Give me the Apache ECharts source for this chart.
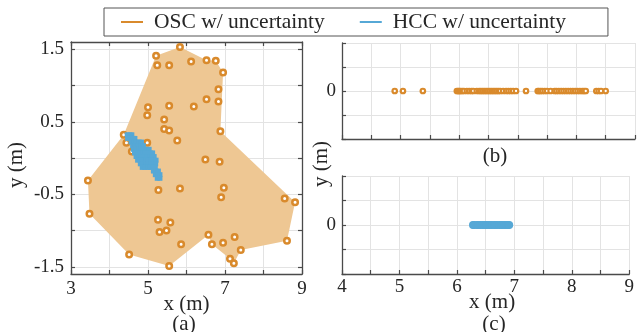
<!DOCTYPE html>
<html>
<head>
<meta charset="utf-8">
<script src="https://cdn.jsdelivr.net/npm/echarts@6/dist/echarts.min.js"></script>
<style>
  html, body { margin: 0; padding: 0; background: #fff; }
  #chart { width: 637px; height: 332px; }
</style>
</head>
<body>
<div id="chart"></div>
<script>
// (a) OSC positions
const oscX = [5.83,5.21,5.24,5.55,6.12,6.52,6.76,6.95,6.83,6.52,6.83,6.19,5.55,5.00,4.98,5.42,5.42,5.55,6.88,5.76,4.37,4.44,4.98,4.58,6.49,6.86,3.44,5.27,5.83,6.97,6.90,8.55,8.82,3.48,5.26,5.58,5.30,5.48,6.57,7.25,5.86,6.66,6.95,8.61,7.41,4.51,7.13,7.23,5.55];
const oscY = [1.53,1.41,1.28,1.28,1.33,1.35,1.34,1.18,0.95,0.81,0.78,0.71,0.72,0.70,0.59,0.53,0.40,0.38,0.37,0.24,0.32,0.21,0.21,0.09,-0.02,-0.05,-0.31,-0.44,-0.42,-0.41,-0.54,-0.56,-0.61,-0.77,-0.85,-0.89,-1.02,-1.00,-1.06,-1.09,-1.19,-1.19,-1.17,-1.14,-1.27,-1.33,-1.39,-1.45,-1.49];

// (a) HCC blob
const hccX = [4.46,4.53,4.58, 4.47,4.54,4.61,4.66, 4.56,4.63,4.70,4.77,4.83, 4.60,4.67,4.74,4.81,4.88, 4.62,4.69,4.76,4.83,4.90,4.97,5.03, 4.65,4.72,4.79,4.86,4.93,5.00,5.07,5.12, 4.69,4.76,4.83,4.90,4.97,5.04,5.11,5.16, 4.73,4.80,4.87,4.94,5.01,5.08,5.15,5.21, 4.80,4.87,4.94,5.01,5.08,5.15,5.20, 4.85,4.92,4.99,5.06,5.13,5.19, 5.14,5.21,5.27, 5.19,5.26,5.31, 5.24,5.31];
const hccY = [0.32,0.32,0.32, 0.27,0.27,0.27,0.27, 0.22,0.22,0.22,0.22,0.22, 0.17,0.17,0.17,0.17,0.17, 0.12,0.12,0.12,0.12,0.12,0.12,0.12, 0.07,0.07,0.07,0.07,0.07,0.07,0.07,0.07, 0.02,0.02,0.02,0.02,0.02,0.02,0.02,0.02, -0.03,-0.03,-0.03,-0.03,-0.03,-0.03,-0.03,-0.03, -0.08,-0.08,-0.08,-0.08,-0.08,-0.08,-0.08, -0.13,-0.13,-0.13,-0.13,-0.13,-0.13, -0.18,-0.18,-0.18, -0.23,-0.23,-0.23, -0.28,-0.28];

// (a) uncertainty region outline
const hullX = [5.83,6.52,6.76,6.95,6.88,8.82,8.61,7.41,7.23,7.13,6.66,6.57,5.55,4.51,3.48,3.44,4.37,5.21];
const hullY = [1.53,1.35,1.34,1.18,0.37,-0.61,-1.14,-1.27,-1.45,-1.39,-1.19,-1.06,-1.49,-1.33,-0.77,-0.31,0.32,1.41];

// (b) OSC along x, (c) HCC along x
const oscLineX = [4.90,5.04,5.38,5.96,5.98,6.00,6.02,6.05,6.08,6.13,6.17,6.21,6.24,6.30,6.34,6.37,6.40,6.43,6.46,6.49,6.52,6.55,6.58,6.61,6.64,6.67,6.70,6.75,6.80,6.84,6.88,6.92,6.97,7.14,7.34,7.36,7.39,7.42,7.46,7.50,7.56,7.63,7.66,7.70,7.74,7.78,7.82,7.86,7.90,7.94,7.98,8.02,8.06,8.10,8.13,8.16,8.34,8.38,8.42,8.50];
const hccLineX = [6.28,6.30,6.35,6.37,6.41,6.44,6.47,6.50,6.52,6.56,6.58,6.61,6.65,6.67,6.70,6.74,6.77,6.80,6.83,6.86,6.89,6.91];

const xLabelsA = [3, 5, 7, 9];
const yLabelsA = [-1.5, -0.5, 0.5, 1.5];
const yTicksA = [-1.5, -1, -0.5, 0, 0.5, 1, 1.5];
const xLabelsC = [4, 5, 6, 7, 8, 9];

const ORANGE = '#D98A2C';
const BLUE = '#56A8D6';
const FILL = '#EEC793';
const FONT = '"Liberation Serif", "Times New Roman", serif';
const TXT = '#262626';
const AXIS = '#4a4a4a';
const GRIDC = '#e3e3e3';

const chart = echarts.init(document.getElementById('chart'));

const boxLine = { show: true, onZero: false, lineStyle: { color: AXIS, width: 1.3 } };
const tickIn = { show: true, inside: true, length: 4, lineStyle: { color: AXIS, width: 1.2 } };
const split = { show: true, lineStyle: { color: GRIDC, width: 1 } };
const lbl = { fontFamily: FONT, fontSize: 19, color: TXT };
const nameStyle = { fontFamily: FONT, fontSize: 21, color: TXT };

const option = {
  animation: false,
  backgroundColor: '#fff',
  legend: {
    left: 104, top: 8,
    padding: [3, 42, 3, 17],
    borderColor: '#555', borderWidth: 1,
    itemGap: 35, itemWidth: 22, itemHeight: 2,
    selectedMode: false,
    textStyle: { fontFamily: FONT, fontSize: 21.5, color: TXT, padding: [0, 0, 0, 6] },
    data: [
      { name: 'OSC w/ uncertainty', icon: 'rect', itemStyle: { color: ORANGE, borderWidth: 0 } },
      { name: 'HCC w/ uncertainty', icon: 'rect', itemStyle: { color: BLUE, borderWidth: 0 } }
    ]
  },
  grid: [
    { left: 71, top: 42, width: 231, height: 232 },
    { left: 342, top: 43, width: 293, height: 96 },
    { left: 342, top: 176, width: 293, height: 98 }
  ],
  xAxis: [
    { gridIndex: 0, type: 'value', min: 3, max: 9, interval: 1, position: 'bottom',
      axisLine: boxLine, axisTick: tickIn, splitLine: split,
      axisLabel: Object.assign({ margin: 6, customValues: xLabelsA }, lbl),
      name: 'x (m)', nameLocation: 'middle', nameGap: 20, nameMoveOverlap: false,
      nameTextStyle: nameStyle },
    { gridIndex: 0, type: 'value', min: 3, max: 9, interval: 1, position: 'top',
      axisLine: boxLine, axisTick: tickIn, splitLine: { show: false }, axisLabel: { show: false } },
    { gridIndex: 1, type: 'value', min: 4, max: 9, interval: 0.5,
      axisLine: boxLine, axisTick: tickIn, splitLine: split, axisLabel: { show: false } },
    { gridIndex: 2, type: 'value', min: 4, max: 9, interval: 0.5,
      axisLine: boxLine, axisTick: tickIn, splitLine: split,
      axisLabel: Object.assign({ margin: 4, customValues: xLabelsC }, lbl),
      name: 'x (m)', nameLocation: 'middle', nameGap: 18, nameMoveOverlap: false,
      nameTextStyle: Object.assign({ padding: [0, 0, 0, 13] }, nameStyle) }
  ],
  yAxis: [
    { gridIndex: 0, type: 'value', min: -1.6, max: 1.6, position: 'left',
      axisLine: boxLine, axisTick: Object.assign({ customValues: yTicksA }, tickIn), splitLine: split,
      axisLabel: Object.assign({ margin: 7, customValues: yLabelsA }, lbl),
      name: 'y (m)', nameLocation: 'middle', nameGap: 44, nameMoveOverlap: false,
      nameTextStyle: Object.assign({ padding: [0, 14, 0, 0] }, nameStyle) },
    { gridIndex: 0, type: 'value', min: -1.6, max: 1.6, position: 'right',
      axisLine: boxLine, axisTick: Object.assign({ customValues: yTicksA }, tickIn),
      splitLine: { show: false }, axisLabel: { show: false } },
    { gridIndex: 1, type: 'value', min: -2, max: 2, interval: 1,
      axisLine: boxLine, axisTick: tickIn, splitLine: split,
      axisLabel: Object.assign({ margin: 6, customValues: [0] }, lbl) },
    { gridIndex: 2, type: 'value', min: -2, max: 2, interval: 1,
      axisLine: boxLine, axisTick: tickIn, splitLine: split,
      axisLabel: Object.assign({ margin: 6, customValues: [0] }, lbl) }
  ],
  graphic: [
    { type: 'text', x: 184, y: 324, style: { text: '(a)', font: '21px ' + FONT, fill: TXT, align: 'center', verticalAlign: 'middle' } },
    { type: 'text', x: 495, y: 156, style: { text: '(b)', font: '21px ' + FONT, fill: TXT, align: 'center', verticalAlign: 'middle' } },
    { type: 'text', x: 494, y: 324, style: { text: '(c)', font: '21px ' + FONT, fill: TXT, align: 'center', verticalAlign: 'middle' } },
    { type: 'text', x: 321, y: 164, rotation: Math.PI / 2, style: { text: 'y (m)', font: '21px ' + FONT, fill: TXT, align: 'center', verticalAlign: 'middle' } }
  ],
  series: [
    {
      type: 'custom', xAxisIndex: 0, yAxisIndex: 0, silent: true, z: 1,
      data: hullX.map((x, i) => [x, hullY[i]]),
      renderItem: function (params, api) {
        if (params.dataIndex !== 0) return null;
        const pts = hullX.map((x, i) => api.coord([x, hullY[i]]));
        return { type: 'polygon', shape: { points: pts }, style: { fill: FILL } };
      }
    },
    {
      name: 'OSC w/ uncertainty', type: 'scatter', xAxisIndex: 0, yAxisIndex: 0, z: 3,
      symbol: 'circle', symbolSize: 5.5,
      itemStyle: { color: '#fff', borderColor: ORANGE, borderWidth: 2.5, opacity: 1 },
      data: oscX.map((x, i) => [x, oscY[i]])
    },
    {
      name: 'HCC w/ uncertainty', type: 'scatter', xAxisIndex: 0, yAxisIndex: 0, z: 4,
      symbol: 'rect', symbolSize: 5,
      itemStyle: { color: BLUE, opacity: 1 },
      data: hccX.map((x, i) => [x, hccY[i]])
    },
    {
      name: 'OSC w/ uncertainty', type: 'scatter', xAxisIndex: 2, yAxisIndex: 2, z: 3,
      symbol: 'circle', symbolSize: 4.5,
      itemStyle: { color: '#fff', borderColor: ORANGE, borderWidth: 2.2, opacity: 1 },
      data: oscLineX.map(x => [x, 0])
    },
    {
      name: 'HCC w/ uncertainty', type: 'scatter', xAxisIndex: 3, yAxisIndex: 3, z: 3,
      symbol: 'circle', symbolSize: 8,
      itemStyle: { color: BLUE, opacity: 1 },
      data: hccLineX.map(x => [x, 0])
    }
  ]
};

chart.setOption(option);
</script>
</body>
</html>
